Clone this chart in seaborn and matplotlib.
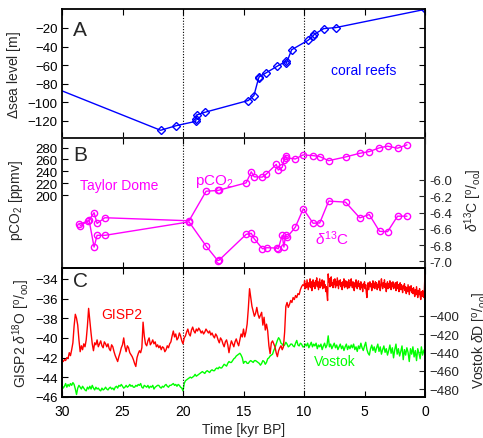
import numpy as np
import pandas as pd
import matplotlib
matplotlib.use("Agg")
import matplotlib.pyplot as plt
import seaborn as sns

# ---------------- data ----------------
# Panel A: coral reef sea level (kyr BP, m)
sl_age = [32.0, 21.85, 20.55, 18.95, 18.92, 18.87, 18.18, 14.61, 14.14, 13.76, 13.70,
          13.18, 12.2, 11.52, 11.46, 11.02, 9.67, 9.23, 9.15, 8.37, 7.38, 0.0]
sl_val = [-77.2, -130.0, -125.0, -120.4, -117.5, -113.5, -110.6, -98.0, -92.7, -74.3, -72.5,
          -68.6, -61.0, -56.0, -58.0, -43.4, -33.3, -28.3, -26.8, -20.7, -19.6, 0.0]

# Panel B: Taylor Dome pCO2 and d13C
co2_age = [28.56, 27.82, 27.35, 27.1, 26.46, 19.5, 18.09, 17.13, 17.02, 14.78, 14.36, 14.12,
           13.45, 13.12, 12.29, 12.13, 11.8, 11.66, 11.52, 11.46, 10.72, 10.08, 9.25, 8.70,
           7.96, 6.57, 5.39, 4.61, 3.78, 3.09, 2.27, 1.49]
co2_val = [151.5, 157.0, 170.7, 152.7, 162.3, 157.2, 206.8, 208.0, 208.5, 220.8, 239.4, 231.0,
           230.4, 235.5, 251.8, 242.3, 246.8, 258.6, 266.0, 263.0, 260.8, 267.6, 266.5, 264.8,
           258.0, 264.2, 270.4, 273.2, 279.4, 282.3, 278.9, 284.5]
d13c_age = [28.51, 27.76, 27.35, 27.1, 26.44, 19.5, 18.07, 17.13, 17.02, 14.78, 14.36, 14.12,
            13.43, 13.07, 12.27, 12.13, 11.80, 11.66, 11.52, 11.41, 10.72, 10.06, 9.25, 8.70,
            7.96, 6.57, 5.39, 4.61, 3.76, 3.09, 2.27, 1.49]
d13c_val = [-6.564, -6.494, -6.823, -6.679, -6.679, -6.514, -6.815, -6.988, -6.984, -6.667,
            -6.654, -6.72, -6.844, -6.831, -6.835, -6.844, -6.679, -6.823, -6.679, -6.704,
            -6.58, -6.354, -6.531, -6.527, -6.259, -6.272, -6.465, -6.424, -6.63, -6.634,
            -6.444, -6.444]

# Panel C: GISP2 d18O, glacial part (30.0 -> 10.1 kyr, every 0.1 kyr)
gisp_glacial = [
    -42.3, -42.4, -42.2, -42.3, -42.0, -42.1, -41.5, -41.8, -41.2, -40.5,
    -38.8, -37.6, -38.0, -38.7, -40.2, -41.4, -40.8, -41.2, -40.6, -40.9,
    -40.2, -38.8, -37.0, -38.3, -39.5, -40.6, -41.3, -40.5, -40.7, -40.2,
    -40.9, -40.6, -40.3, -40.8, -41.0, -40.4, -40.6, -40.9, -40.6, -41.1,
    -41.3, -40.7, -40.9, -41.4, -41.8, -42.1, -42.4, -41.9, -41.5, -41.0,
    -40.7, -40.0, -40.9, -41.4, -40.8, -41.0, -41.5, -41.7, -41.9, -42.2,
    -42.6, -42.9, -42.0, -41.6, -41.3, -41.5, -41.0, -38.4, -39.8, -40.6,
    -40.8, -40.3, -40.0, -40.7, -40.5, -40.2, -40.6, -40.4, -40.9, -40.7,
    -41.0, -40.8, -41.2, -40.9, -41.0, -41.4, -41.2, -40.8, -41.0, -40.6,
    -40.4, -39.8, -39.3, -39.9, -39.6, -40.2, -40.0, -39.5, -39.8, -40.3,
    -40.6, -40.0, -39.8, -39.4, -39.1, -39.6, -39.8, -39.2, -38.9, -39.3,
    -39.5, -39.1, -39.3, -39.0, -39.2, -39.5, -39.3, -39.6, -39.4, -39.1,
    -39.3, -39.5, -39.3, -39.7, -39.5, -39.8, -40.0, -39.6, -39.8, -40.2,
    -40.5, -40.0, -40.2, -40.6, -40.9, -40.4, -40.2, -40.7, -41.5, -40.8,
    -40.3, -40.6, -40.9, -40.4, -40.1, -40.5, -40.8, -40.2, -39.6, -39.9,
    -39.1, -39.9, -39.4, -38.6, -37.0, -35.0, -35.9, -36.8, -37.3, -37.8,
    -37.5, -36.9, -37.6, -38.0, -37.7, -37.4, -38.7, -37.9, -39.2, -38.6,
    -39.3, -40.8, -41.6, -40.5, -40.3, -40.6, -40.9, -41.5, -41.9, -41.3,
    -41.0, -40.8, -41.2, -40.9, -39.4, -36.8, -36.4, -36.9, -36.6, -36.2,
    -36.4, -35.9, -36.1, -35.7, -35.9, -35.5, -35.6, -35.1, -34.8, -34.6]
# GISP2 Holocene part (10.00 -> 0.00 kyr, every 0.05 kyr)
gisp_holocene = [
    -34.7, -34.2, -35.0, -34.5, -34.9, -34.1, -34.6, -35.1, -34.4, -34.8,
    -34.0, -34.9, -34.3, -35.2, -34.5, -34.1, -34.8, -34.4, -35.0, -34.2,
    -34.6, -33.9, -34.8, -34.3, -35.1, -34.5, -34.0, -34.9, -34.4, -34.7,
    -34.1, -35.0, -34.5, -34.2, -34.9, -34.6, -35.3, -34.8, -35.6, -36.2,
    -33.5, -34.3, -34.0, -34.8, -34.2, -33.8, -34.7, -34.4, -34.9, -34.1,
    -34.6, -34.0, -34.9, -34.3, -34.7, -33.9, -34.5, -35.0, -34.2, -34.6,
    -34.1, -34.8, -34.4, -35.1, -34.3, -34.7, -34.0, -34.9, -34.5, -34.2,
    -34.8, -34.3, -35.0, -34.5, -34.1, -34.9, -34.4, -34.7, -34.0, -34.6,
    -34.9, -34.3, -34.7, -35.2, -34.4, -34.8, -34.1, -34.6, -35.0, -34.4,
    -34.2, -34.8, -34.5, -35.1, -34.3, -34.9, -34.6, -35.3, -34.5, -34.8,
    -34.3, -35.0, -34.6, -35.4, -35.9, -34.9, -34.4, -35.1, -34.7, -34.3,
    -34.8, -34.5, -35.2, -34.6, -34.2, -34.9, -34.5, -35.0, -34.3, -34.7,
    -34.4, -35.1, -34.6, -34.9, -34.2, -34.8, -35.2, -34.5, -34.0, -34.7,
    -35.0, -34.4, -34.8, -34.1, -34.9, -34.5, -35.3, -34.6, -34.3, -35.0,
    -34.5, -34.9, -34.2, -34.7, -35.1, -34.4, -34.8, -34.3, -35.0, -34.6,
    -34.9, -34.4, -35.2, -34.7, -34.3, -35.0, -34.6, -35.3, -34.8, -34.4,
    -35.1, -34.6, -34.9, -35.4, -34.7, -35.0, -34.5, -35.2, -34.8, -35.5,
    -34.9, -35.3, -34.6, -35.1, -35.6, -34.8, -35.2, -34.7, -35.4, -35.0,
    -35.5, -34.9, -35.3, -35.8, -35.1, -35.6, -34.8, -35.4, -35.9, -35.2,
    -35.6, -35.0, -35.7, -36.1, -35.3, -35.8, -35.2, -35.6, -35.9, -35.0,
    -33.5]
# Vostok dD (30.0 -> 0.0 kyr, every 0.1 kyr)
vostok_val = [
    -476, -479, -477, -474, -478, -475, -477, -474, -476, -473,
    -475, -480, -486, -479, -476, -478, -480, -477, -479, -481,
    -482, -478, -480, -477, -480, -476, -479, -481, -478, -480,
    -479, -481, -482, -479, -481, -480, -478, -480, -481, -479,
    -478, -480, -479, -481, -478, -477, -479, -476, -477, -475,
    -477, -479, -478, -476, -478, -477, -475, -477, -476, -478,
    -478, -476, -477, -475, -476, -474, -478, -479, -476, -477,
    -478, -476, -479, -477, -478, -476, -480, -478, -477, -476,
    -476, -478, -479, -477, -478, -476, -475, -477, -478, -476,
    -476, -475, -474, -476, -475, -477, -475, -476, -478, -479,
    -482, -474, -471, -470, -469, -468, -467, -468, -467, -466,
    -464, -466, -465, -464, -463, -462, -461, -462, -463, -461,
    -460, -461, -462, -460, -459, -460, -460, -458, -457, -458,
    -456, -457, -457, -455, -453, -454, -455, -452, -450, -451,
    -451, -449, -447, -446, -444, -443, -442, -441, -443, -446,
    -452, -450, -450, -452, -452, -450, -449, -450, -451, -449,
    -449, -450, -451, -452, -454, -452, -449, -450, -453, -451,
    -447, -446, -444, -443, -442, -438, -435, -431, -427, -424,
    -426, -430, -431, -433, -432, -429, -431, -434, -433, -431,
    -431, -433, -434, -430, -427, -432, -433, -430, -431, -434,
    -434, -431, -433, -430, -435, -432, -429, -434, -431, -433,
    -430, -436, -432, -434, -431, -437, -433, -430, -435, -432,
    -422, -434, -431, -436, -433, -430, -435, -432, -437, -434,
    -431, -436, -433, -438, -434, -431, -437, -433, -436, -432,
    -435, -431, -437, -434, -439, -433, -436, -430, -435, -438,
    -433, -429, -437, -441, -443, -436, -432, -438, -434, -440,
    -435, -431, -439, -434, -442, -437, -433, -440, -436, -443,
    -438, -432, -441, -435, -446, -437, -431, -442, -436, -444,
    -439, -433, -448, -437, -443, -435, -440, -450, -436, -442,
    -434, -445, -438, -449, -436, -441, -447, -434, -443, -438,
    -436]

gisp_age = np.concatenate([np.round(np.arange(300, 100, -1) / 10.0, 2),
                           np.round(np.arange(200, -1, -1) / 20.0, 3)])
gisp_val = gisp_glacial + gisp_holocene
vostok_age = np.round(np.arange(300, -1, -1) / 10.0, 2)

ref_lines = [20, 10]
time_ticks = [30, 25, 20, 15, 10, 5, 0]

# ---------------- style ----------------
sns.set_theme(style="ticks")
plt.rcParams["font.family"] = ["Liberation Sans", "DejaVu Sans"]
plt.rcParams["mathtext.fontset"] = "custom"
plt.rcParams["mathtext.rm"] = "Liberation Sans"
plt.rcParams["mathtext.it"] = "Liberation Sans:italic"
plt.rcParams["mathtext.bf"] = "Liberation Sans:bold"

BLUE = "#0000FF"
MAG = "#FF00FF"
RED = "#FF0000"
GREEN = "#00FF00"
FS = 10
YFS = 9.5

W, H = 483, 439
fig = plt.figure(figsize=(W / 100, H / 100), dpi=100)


def fx(px):
    return px / W


def fy(py):
    return 1 - py / H


L, R = 62, 425
panels = [(10, 139), (139, 269), (269, 398)]
axes = []
for top, bot in panels:
    ax = fig.add_axes([fx(L), fy(bot), fx(R - L), (bot - top) / H])
    axes.append(ax)
axA, axB, axC = axes

for ax in axes:
    ax.set_xlim(30, 0)
    ax.set_xticks(time_ticks)
    for v in ref_lines:
        ax.axvline(v, color="black", lw=0.8, ls=(0, (1, 1.5)), zorder=1)
    for s in ax.spines.values():
        s.set_linewidth(1.3)
        s.set_color("black")
    ax.tick_params(axis="both", direction="in", length=4, width=0.8,
                   labelsize=FS, colors="black", top=True, pad=3)
    ax.tick_params(axis="y", labelsize=YFS)
    ax.set_xlabel("")
    ax.set_ylabel("")

# ---- Panel A ----
dfA = pd.DataFrame({"age": sl_age, "sl": sl_val})
sns.lineplot(data=dfA, x="age", y="sl", ax=axA, sort=False, estimator=None,
             color=BLUE, lw=1.0, marker="D", markersize=4,
             markerfacecolor="none", markeredgecolor=BLUE, markeredgewidth=1.0)
axA.set_xlim(30, 0)
axA.set_ylim(-138.3, 0.4)
axA.set_yticks([-20, -40, -60, -80, -100, -120])
axA.tick_params(axis="y", right=True)
axA.tick_params(axis="x", labelbottom=False)
axA.set_xlabel("")
axA.set_ylabel("")
axA.text(0.03, 0.84, "A", transform=axA.transAxes, fontsize=15, va="center", ha="left")
axA.text(0.832, 0.53, "coral reefs", transform=axA.transAxes, fontsize=FS,
         color=BLUE, ha="center", va="center")

# ---- Panel B ----
dfCO2 = pd.DataFrame({"age": co2_age, "co2": co2_val})
dfD13 = pd.DataFrame({"age": d13c_age, "d13c": d13c_val})
sns.lineplot(data=dfCO2, x="age", y="co2", ax=axB, sort=False, estimator=None,
             color=MAG, lw=1.0, marker="o", markersize=4.5,
             markerfacecolor="none", markeredgecolor=MAG, markeredgewidth=1.0)
axB.set_xlim(30, 0)
axB.set_ylim(78, 296)
axB.set_yticks([200, 220, 240, 260, 280])
axB.tick_params(axis="x", labelbottom=False)
axB.tick_params(axis="y", right=False)
axB.set_xlabel("")
axB.set_ylabel("")
axB2 = axB.twinx()
sns.lineplot(data=dfD13, x="age", y="d13c", ax=axB2, sort=False, estimator=None,
             color=MAG, lw=1.0, marker="o", markersize=4.5,
             markerfacecolor="none", markeredgecolor=MAG, markeredgewidth=1.0)
axB2.set_xlim(30, 0)
axB2.set_ylim(-7.08, -5.485)
axB2.set_yticks([-6.0, -6.2, -6.4, -6.6, -6.8, -7.0])
axB2.set_yticklabels(["-6.0", "-6.2", "-6.4", "-6.6", "-6.8", "-7.0"])
axB2.tick_params(axis="y", direction="in", length=4, width=0.8, labelsize=YFS, pad=3)
axB2.set_ylabel("")
for s in axB2.spines.values():
    s.set_linewidth(1.3)
axB.text(0.05, 0.87, "B", transform=axB.transAxes, fontsize=15, va="center", ha="center")
axB.text((119 - L) / (R - L), (269 - 186) / 130, "Taylor Dome",
         transform=axB.transAxes, color=MAG, fontsize=FS, ha="center", va="center")
axB.text((214 - L) / (R - L), (269 - 182) / 130, r"pCO$_2$",
         transform=axB.transAxes, color=MAG, fontsize=FS + 1, ha="center", va="center")
axB.text((332 - L) / (R - L), (269 - 239) / 130, r"$\delta^{13}$C",
         transform=axB.transAxes, color=MAG, fontsize=FS + 1, ha="center", va="center")

# ---- Panel C ----
dfG = pd.DataFrame({"age": gisp_age, "d18o": gisp_val})
dfV = pd.DataFrame({"age": vostok_age, "dD": vostok_val})
axC2 = axC.twinx()
sns.lineplot(data=dfV, x="age", y="dD", ax=axC2, sort=False, estimator=None,
             color=GREEN, lw=1.0)
sns.lineplot(data=dfG, x="age", y="d18o", ax=axC, sort=False, estimator=None,
             color=RED, lw=1.0)
axC.set_zorder(axC2.get_zorder() + 1)
axC.patch.set_visible(False)
axC.set_xlim(30, 0)
axC.set_ylim(-46, -32.9)
axC.set_yticks([-34, -36, -38, -40, -42, -44, -46])
axC.tick_params(axis="y", right=False)
axC.tick_params(axis="x", pad=5)
axC.set_xticklabels([str(t) for t in time_ticks])
axC.set_xlabel("Time [kyr BP]", fontsize=FS, labelpad=3)
axC.set_ylabel("")
axC2.set_xlim(30, 0)
axC2.set_ylim(-488.7, -348)
axC2.set_yticks([-400, -420, -440, -460, -480])
axC2.tick_params(axis="y", direction="in", length=4, width=0.8, labelsize=YFS, pad=3)
axC2.set_ylabel("")
for s in axC2.spines.values():
    s.set_linewidth(1.3)
axC.text(0.05, 0.9, "C", transform=axC.transAxes, fontsize=15, va="center", ha="center")
axC.text((121.5 - L) / (R - L), (398 - 315) / 129, "GISP2", transform=axC.transAxes,
         color=RED, fontsize=FS, ha="center", va="center")
axC2.text((335 - L) / (R - L), (398 - 361.7) / 129, "Vostok", transform=axC2.transAxes,
          color=GREEN, fontsize=FS, ha="center", va="center")

# ---- axis labels (figure positioned) ----
fig.text(fx(14), fy(75), r"$\Delta$sea level [m]", rotation=90, fontsize=FS,
         ha="center", va="center")
fig.text(fx(16), fy(201), r"pCO$_2$ [ppmv]", rotation=90, fontsize=FS,
         ha="center", va="center")
fig.text(fx(21), fy(333), r"GISP2 $\delta^{18}$O [$^{\mathrm{o}}/_{\mathrm{oo}}$]",
         rotation=90, fontsize=FS, ha="center", va="center")
fig.text(fx(473), fy(200), r"$\delta^{13}$C [$^{\mathrm{o}}/_{\mathrm{oo}}$]",
         rotation=90, fontsize=FS, ha="center", va="center")
fig.text(fx(480), fy(340), r"Vostok $\delta$D [$^{\mathrm{o}}/_{\mathrm{oo}}$]",
         rotation=90, fontsize=FS, ha="center", va="center")

fig.savefig("out.png", dpi=100)
